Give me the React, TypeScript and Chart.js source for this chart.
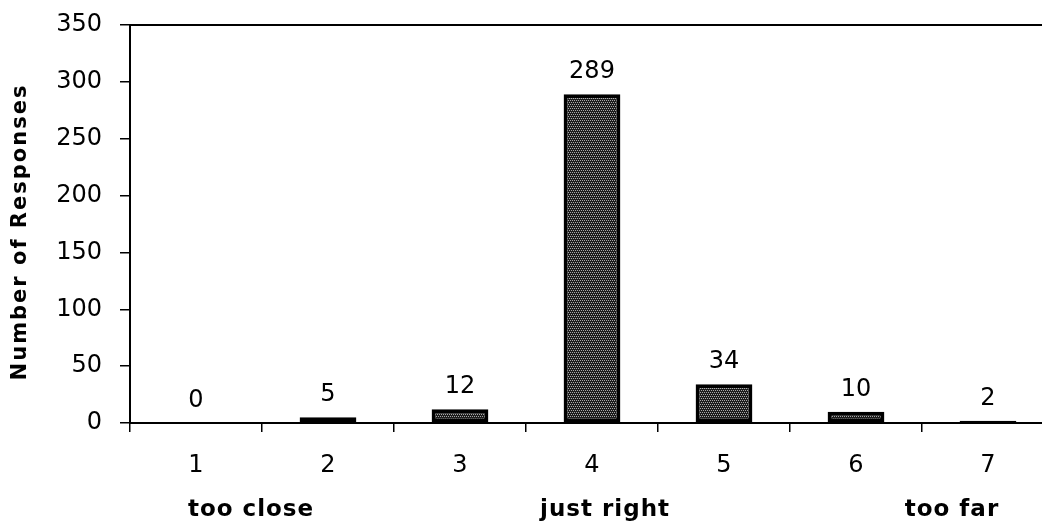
import React, { useEffect, useRef } from "react";
import { Chart, registerables } from "chart.js";

Chart.register(...registerables);

const categories = ["1", "2", "3", "4", "5", "6", "7"];
const responses = [0, 5, 12, 289, 34, 10, 2];
const yMin = 0;
const yMax = 350;
const yStep = 50;
const yTitle = "Number of Responses";
const anchorLabels = ["too close", "just right", "too far"];
const anchorCategories = [0, 3, 6];

const FONT = "'DejaVu Sans', sans-serif";

function makePattern(): CanvasPattern | string {
  const c = document.createElement("canvas");
  c.width = 4;
  c.height = 4;
  const g = c.getContext("2d");
  if (!g) return "#3d3d3d";
  g.fillStyle = "#1c1c1c";
  g.fillRect(0, 0, 4, 4);
  g.fillStyle = "#a8a8a8";
  g.fillRect(0, 0, 1, 1);
  g.fillRect(2, 0, 1, 1);
  g.fillRect(1, 2, 1, 1);
  g.fillRect(3, 2, 1, 1);
  const p = g.createPattern(c, "repeat");
  return p || "#3d3d3d";
}

const annotationPlugin = {
  id: "annotations",
  afterDatasetsDraw(chart: any) {
    const ctx = chart.ctx as CanvasRenderingContext2D;
    const area = chart.chartArea;
    const meta = chart.getDatasetMeta(0);
    ctx.save();
    // top frame line
    ctx.strokeStyle = "#000";
    ctx.lineWidth = 2;
    ctx.beginPath();
    ctx.moveTo(area.left, area.top);
    ctx.lineTo(chart.width, area.top);
    ctx.stroke();

    // value labels
    ctx.fillStyle = "#000";
    ctx.font = `24px ${FONT}`;
    ctx.textAlign = "center";
    ctx.textBaseline = "alphabetic";
    meta.data.forEach((bar: any, i: number) => {
      ctx.fillText(String(responses[i]), bar.x, bar.y - 16);
    });

    // bottom anchor labels
    const xs = chart.scales.x;
    const shifts = [55, 13, -36];
    ctx.font = `bold 23px ${FONT}`;
    (ctx as any).letterSpacing = "1px";
    anchorLabels.forEach((t, i) => {
      const x = xs.getPixelForValue(anchorCategories[i]) + shifts[i];
      ctx.fillText(t, x, 516);
    });

    // y title
    ctx.font = `bold 21px ${FONT}`;
    (ctx as any).letterSpacing = "2px";
    ctx.translate(26, (area.top + area.bottom) / 2 + 8);
    ctx.rotate(-Math.PI / 2);
    ctx.fillText(yTitle, 0, 0);
    ctx.restore();
  },
};

export default function App() {
  const ref = useRef<HTMLCanvasElement | null>(null);

  useEffect(() => {
    if (!ref.current) return;
    const pattern = makePattern();
    const chart = new Chart(ref.current, {
      type: "bar",
      data: {
        labels: categories,
        datasets: [
          {
            data: responses,
            backgroundColor: pattern as any,
            borderColor: "#000",
            borderWidth: 4,
            borderSkipped: false,
            categoryPercentage: 1,
            barPercentage: 0.43,
          },
        ],
      },
      options: {
        responsive: false,
        animation: false,
        devicePixelRatio: 1,
        layout: { padding: { left: 0, right: 6, top: 25, bottom: 0 } },
        plugins: {
          legend: { display: false },
          tooltip: { enabled: false },
        },
        scales: {
          x: {
            grid: {
              display: true,
              drawOnChartArea: false,
              drawTicks: true,
              tickLength: 9,
              color: "#000",
              lineWidth: 1.5,
              offset: true,
            },
            border: { display: true, color: "#000", width: 2 },
            ticks: {
              color: "#000",
              font: { family: FONT, size: 24 },
              padding: 19,
              maxRotation: 0,
            },
            afterFit: (s: any) => {
              s.height = 99;
              s.paddingLeft = 0;
              s.paddingRight = 0;
            },
          },
          y: {
            min: yMin,
            max: yMax,
            ticks: {
              stepSize: yStep,
              color: "#000",
              font: { family: FONT, size: 24 },
              padding: 18,
            },
            grid: {
              display: true,
              drawOnChartArea: false,
              drawTicks: true,
              tickLength: 10,
              color: "#000",
              lineWidth: 1.5,
            },
            border: { display: true, color: "#000", width: 2 },
            afterFit: (s: any) => {
              s.width = 130;
              s.paddingTop = 0;
              s.paddingBottom = 0;
            },
          },
        },
      },
      plugins: [annotationPlugin],
    });
    return () => chart.destroy();
  }, []);

  return (
    <div
      style={{
        position: "absolute",
        left: 0,
        top: 0,
        width: 1042,
        height: 522,
        overflow: "hidden",
        background: "#fff",
      }}
    >
      <canvas ref={ref} width={1060} height={522} style={{ width: 1060, height: 522 }} />
    </div>
  );
}
